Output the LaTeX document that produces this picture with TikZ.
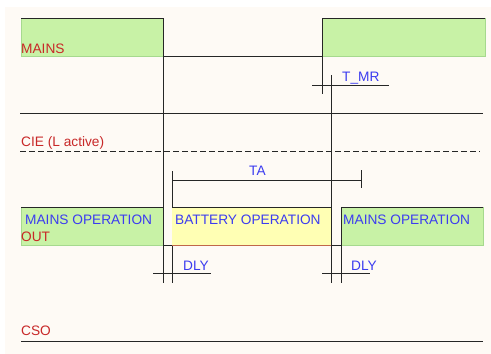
\documentclass[tikz,border=0pt]{standalone}
\usepackage{fontspec}
\setmainfont{Liberation Sans}
\usepackage{xcolor}
\usetikzlibrary{positioning}

\definecolor{paper}{HTML}{FEFAF5}
\definecolor{mainsgreen}{HTML}{C8F2A6}
\definecolor{greenedge}{HTML}{A6D98E}
\definecolor{battyellow}{HTML}{FFFFB4}
\definecolor{battedge}{HTML}{C0674A}
\definecolor{sigblue}{HTML}{3C3CF0}
\definecolor{sigred}{HTML}{C82828}

\begin{document}
\begin{tikzpicture}[
    x=1pt, y=-1pt,
    wire/.style={line width=1pt, black!85},
    dwire/.style={wire, dash pattern=on 6pt off 3pt},
    gedge/.style={line width=1pt, greenedge},
    lbl/.style={anchor=base west, inner sep=0pt, font=\fontsize{13.7}{16}\selectfont},
    sig/.style={lbl, text=sigred},
    tm/.style={lbl, text=sigblue},
]
    \useasboundingbox (0,0) rectangle (491,354);
    \fill[paper] (5,7) rectangle (491,354);

    % MAINS
    \fill[mainsgreen] (21,18) rectangle (163,56);
    \draw[gedge] (21,18) -- (21,56) -- (163,56);
    \fill[mainsgreen] (322,18) rectangle (485,56);
    \draw[gedge] (485,18) -- (485,56) -- (322,56);
    \draw[wire] (21,18) -- (163,18) -- (163,283);
    \draw[wire] (163,56) -- (322,56);
    \draw[wire] (485,18) -- (322,18) -- (322,94);
    \node[sig] (mains) at (21,53) {MAINS};

    % T_MR
    \draw[wire] (312,85) -- (389,85);
    \draw[wire] (331,75) -- (331,283);
    \node[tm] (tmr) at (342,81) {T\_MR};

    \draw[wire] (20,113) -- (483,113);

    % CIE
    \node[sig] (cie) at (21,146) {CIE (L active)};
    \draw[dwire] (20,151) -- (480,151);

    % TA
    \draw[wire] (172,171) -- (172,283);
    \draw[wire] (172,180) -- (361,180);
    \draw[wire] (361,170) -- (361,188);
    \node[tm] (ta) at (249,175) {TA};

    % OUT
    \fill[mainsgreen] (21,207) rectangle (163,245);
    \draw[gedge] (21,207) -- (21,245) -- (163,245);
    \fill[battyellow] (172,207) rectangle (331,245);
    \draw[line width=1pt, battedge] (172,245) -- (331,245);
    \fill[mainsgreen] (341,207) rectangle (483,245);
    \draw[gedge] (483,207) -- (483,245) -- (341,245);
    \draw[wire] (21,207) -- (163,207);
    \draw[wire] (172,207) -- (331,207);
    \draw[wire] (483,207) -- (341,207) -- (341,283);
    \draw[wire] (163,245) -- (172,245);
    \draw[wire] (331,245) -- (341,245);
    \node[tm] (mop1) at (25,224) {MAINS OPERATION};
    \node[sig] (out) at (21,241) {OUT};
    \node[tm] (bop) at (175,224) {BATTERY OPERATION};
    \node[tm] (mop2) at (343,224) {MAINS OPERATION};

    % DLY
    \draw[wire] (153,273) -- (211,273);
    \draw[wire] (322,273) -- (370,273);
    \node[tm] (dly1) at (183,270) {DLY};
    \node[tm] (dly2) at (351,270) {DLY};

    % CSO
    \node[sig] (cso) at (21,335) {CSO};
    \draw[wire] (21,341) -- (483,341);
\end{tikzpicture}
\end{document}
